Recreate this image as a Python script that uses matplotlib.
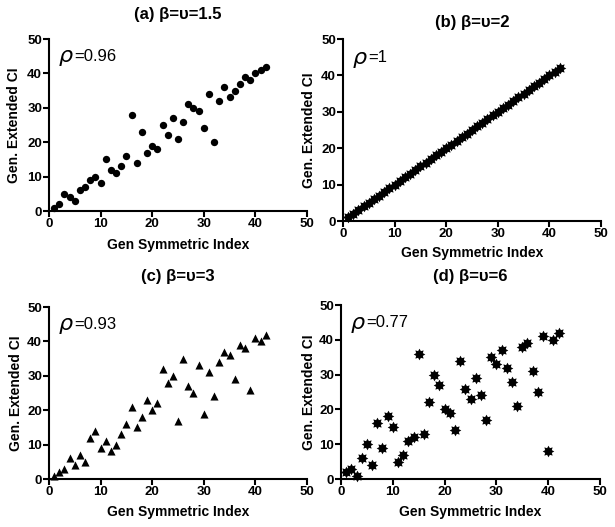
import numpy as np
import matplotlib
matplotlib.use('Agg')
import matplotlib.pyplot as plt
from matplotlib.path import Path

plt.rcParams['font.family'] = ['Liberation Sans', 'DejaVu Sans']

# x is the rank on the Gen Symmetric Index, 1..42
gsi = list(range(1, 43))

# Gen. Extended CI ranks for each panel
gec_a = [1, 2, 5, 4, 3, 6, 7, 9, 10, 8, 15, 12, 11, 13, 16, 28, 14, 23, 17, 19, 18,
         25, 22, 27, 21, 26, 31, 30, 29, 24, 34, 20, 32, 36, 33, 35, 37, 39, 38, 40, 41, 42]
gec_b = list(range(1, 43))
gec_c = [1, 2, 3, 6, 4, 7, 5, 12, 14, 9, 11, 8, 10, 13, 16, 21, 15, 18, 23, 20, 22,
         32, 28, 30, 17, 35, 27, 25, 33, 19, 31, 24, 34, 37, 36, 29, 39, 38, 26, 41, 40, 42]
gec_d = [2, 3, 1, 6, 10, 4, 16, 9, 18, 15, 5, 7, 11, 12, 36, 13, 22, 30, 27, 20, 19,
         14, 34, 26, 23, 29, 24, 17, 35, 33, 37, 32, 28, 21, 38, 39, 31, 25, 41, 8, 40, 42]

titles = ['(a) β=υ=1.5', '(b) β=υ=2', '(c) β=υ=3', '(d) β=υ=6']
rhos = ['=0.96', '=1', '=0.93', '=0.77']

W, H = 615, 527
fig = plt.figure(figsize=(W / 100, H / 100), dpi=100)

# spiky filled star marker (like the prism asterisk)
ang = np.linspace(0, 2 * np.pi, 17)[:-1] + np.pi / 2
rad = np.where(np.arange(16) % 2 == 0, 1.0, 0.62)
verts = np.column_stack([rad * np.cos(ang), rad * np.sin(ang)])
verts = np.vstack([verts, verts[:1]])
star = Path(verts, closed=True)

# axes boxes in pixels: left, right, top, bottom
boxes = [(49, 307, 39, 211), (343, 601, 39, 221), (49, 307, 307, 479), (341, 600, 305, 479)]
title_y = [15, 22, 277, 277]
xlab_y = [245, 253, 512, 512]
ylab_x = [14, 309, 16, 309]
styles = [dict(marker='o', s=28), dict(marker=star, s=70),
          dict(marker='^', s=34), dict(marker=star, s=70)]
data = [gec_a, gec_b, gec_c, gec_d]

for i in range(4):
    l, r, t, b = boxes[i]
    ax = fig.add_axes([l / W, 1 - b / H, (r - l) / W, (b - t) / H])
    ax.scatter(gsi, data[i], color='black', linewidths=0, clip_on=False, zorder=3, **styles[i])
    ax.set_xlim(0, 50)
    ax.set_ylim(0, 50)
    ax.set_xticks([0, 10, 20, 30, 40, 50])
    ax.set_yticks([0, 10, 20, 30, 40, 50])
    for s in ['top', 'right']:
        ax.spines[s].set_visible(False)
    for s in ['left', 'bottom']:
        ax.spines[s].set_linewidth(1.5)
    ax.tick_params(direction='out', length=4, width=1.5, pad=1, labelsize=9.5)
    for lab in ax.get_xticklabels() + ax.get_yticklabels():
        lab.set_fontweight('bold')
    cx = (l + r) / 2 / W
    fig.text(cx, 1 - title_y[i] / H, titles[i], fontsize=12, fontweight='bold',
             ha='center', va='center')
    fig.text(cx, 1 - xlab_y[i] / H, 'Gen Symmetric Index', fontsize=10,
             fontweight='bold', ha='center', va='center')
    fig.text(ylab_x[i] / W, 1 - (t + b) / 2 / H, 'Gen. Extended CI', fontsize=10,
             fontweight='bold', ha='center', va='center', rotation=90)
    ax.text(1.8, 44.5, r'$\rho$', fontsize=16, va='center', ha='left')
    ax.text(4.9, 45, rhos[i], fontsize=12, va='center', ha='left')

fig.savefig('out.png', dpi=100)
